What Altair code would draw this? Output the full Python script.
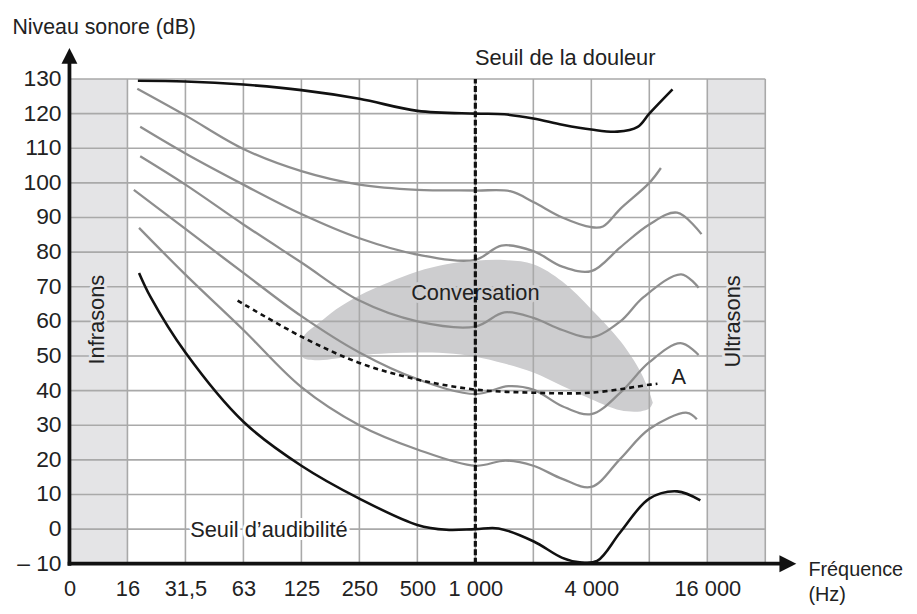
import altair as alt
import pandas as pd

FONT = "Liberation Sans, Arial, Helvetica, sans-serif"
TXT = "#222222"
GRAY = "#8e8e8e"
GRID = "#a9a9a9"
BAND = "#e4e4e6"
BLOB = "#cdcdcf"
INTERP = "catmull-rom"

# ---- axes (x = octave index: 0 -> "0", 1 -> 16 Hz, 7 -> 1 000 Hz, 11 -> 16 000 Hz) ----
x_tick_pos = [0, 1, 2, 3, 4, 5, 6, 7, 9, 11]
x_tick_labels = ["0", "16", "31,5", "63", "125", "250", "500", "1 000", "4 000", "16 000"]
grid_x = [1, 2, 3, 4, 5, 6, 7, 8, 9, 10, 11, 12]
grid_y = [0, 10, 20, 30, 40, 50, 60, 70, 80, 90, 100, 110, 120, 130]
y_ticks = [-10, 0, 10, 20, 30, 40, 50, 60, 70, 80, 90, 100, 110, 120, 130]
y_tick_labels = ["\u2013 10", "0", "10", "20", "30", "40", "50", "60", "70", "80", "90",
                 "100", "110", "120", "130"]

# ---- isophone curves (dB) ----
c120_x = [1.18, 2, 3, 4, 5, 6, 7, 7.5, 8, 8.5, 9, 9.45, 9.8, 10, 10.4]
c120_y = [129.5, 129.3, 128.4, 126.8, 124.3, 120.8, 120, 119.8, 118.6, 116.8, 115.4, 114.8, 116.2, 120, 127]

c100_x = [1.17, 2, 3, 4, 5, 6, 7, 7.6, 8, 8.5, 9, 9.2, 9.5, 10, 10.2]
c100_y = [127.2, 119.5, 109.8, 103.4, 99.5, 98, 97.8, 97.6, 94.5, 90, 87.2, 87.4, 92.5, 100, 104.3]

c80_x = [1.22, 2, 3, 4, 5, 6, 7, 7.45, 8, 8.5, 9, 9.5, 10, 10.48, 10.9]
c80_y = [116.2, 108.5, 99.5, 91, 84, 79.3, 77.8, 81.9, 80.3, 75.8, 74.5, 81.4, 88, 91.4, 85.2]

c60_x = [1.22, 2, 3, 4, 5, 6, 7, 7.5, 8, 8.5, 9, 9.5, 9.9, 10.55, 10.85]
c60_y = [107.7, 99.5, 88, 77, 66, 60, 58.5, 62.6, 61, 57.5, 55.4, 60, 67, 73.6, 69.7]

c40_x = [1.11, 2, 3, 4, 5, 6, 7, 7.57, 8, 8.5, 9, 9.5, 10, 10.54, 10.85]
c40_y = [98, 86.7, 74, 61.5, 51, 43.3, 39, 41.3, 40.3, 35.5, 33.2, 39.4, 48.2, 53.7, 50.3]

c20_x = [1.2, 2, 3, 4, 5, 6, 7, 7.52, 8, 8.5, 9, 9.5, 10, 10.65, 10.82]
c20_y = [87, 73.5, 57.5, 41, 30, 23, 18.3, 19.8, 18.3, 14.5, 12.2, 20.3, 28.9, 33.6, 31.7]

c0_x = [1.2, 1.4, 2, 3, 4, 5, 6, 6.5, 7, 7.4, 8, 8.5, 8.8, 9.1, 9.5, 10, 10.48, 10.88]
c0_y = [74, 67, 51, 31, 18.3, 8.8, 1.2, -0.2, 0, 0.2, -3.5, -8.3, -9.6, -9.2, -0.9, 8.8, 10.9, 8.3]

# curve A (dashed)
a_x = [2.9, 4, 5, 6, 7, 8, 9, 10, 10.14]
a_y = [66, 55.6, 48, 43.2, 40.3, 39.4, 39.4, 41.7, 42]

# conversation zone
blob_x = [3.98, 4.05, 4.3, 4.6, 5.0, 5.5, 6.0, 6.5, 7.0, 7.5, 8.0, 8.5, 9.0, 9.5, 9.85, 10.0, 10.06]
blob_hi = [53.5, 56, 59.5, 63.5, 67.5, 71.2, 74.4, 76.5, 77.5, 77.7, 76.5, 71.5, 63.5, 54.3, 45.4, 39.5, 36.5]
blob_lo = [50.5, 49.3, 48.8, 49.3, 50.2, 50.8, 51, 50.8, 49.8, 47.8, 45.2, 41.3, 37.5, 34.3, 34.0, 34.8, 36.5]

# bands
band_x = [0, 11]
band_x2 = [1, 12]

# annotations
ann_text = ["Conversation", "A", "Seuil d\u2019audibilit\u00e9", "Seuil de la douleur"]
ann_x = [7, 10.51, 3.44, 8.55]
ann_y = [68.3, 43.8, -0.2, 136]
ann_halo = [BLOB, "white", "white", "white"]

rot_text = ["Infrasons", "Ultrasons"]
rot_x = [0.47, 11.45]
rot_y = [60.5, 60]

# ---- data frames ----
gray_rows = []
for name, xs_, ys_ in [("100", c100_x, c100_y), ("80", c80_x, c80_y), ("60", c60_x, c60_y),
                       ("40", c40_x, c40_y), ("20", c20_x, c20_y)]:
    gray_rows += [{"curve": name, "x": a, "y": b} for a, b in zip(xs_, ys_)]
black_rows = []
for name, xs_, ys_ in [("120", c120_x, c120_y), ("0", c0_x, c0_y)]:
    black_rows += [{"curve": name, "x": a, "y": b} for a, b in zip(xs_, ys_)]
df_gray = pd.DataFrame(gray_rows)
df_black = pd.DataFrame(black_rows)
df_a = pd.DataFrame({"x": a_x, "y": a_y})
df_blob = pd.DataFrame({"x": blob_x, "y": blob_hi, "y2": blob_lo})
df_band = pd.DataFrame({"x": band_x, "x2": band_x2, "y": [-10, -10], "y2": [130, 130]})
df_vgrid = pd.DataFrame({"x": grid_x, "y": [-10] * len(grid_x), "y2": [130] * len(grid_x)})
df_hgrid = pd.DataFrame({"y": grid_y, "x": [0] * len(grid_y), "x2": [12] * len(grid_y)})
df_ylab = pd.DataFrame({"y": y_ticks, "x": [0] * len(y_ticks), "text": y_tick_labels})
df_ann = pd.DataFrame({"x": ann_x, "y": ann_y, "text": ann_text, "halo": ann_halo})
df_rot = pd.DataFrame({"x": rot_x, "y": rot_y, "text": rot_text})
df_vline = pd.DataFrame({"x": [7], "y": [-10], "y2": [130]})
df_yaxis = pd.DataFrame({"x": [0], "y": [-10.6], "y2": [135.5]})
df_xaxis = pd.DataFrame({"y": [-10], "x": [-0.03], "x2": [12.3]})
df_yhead = pd.DataFrame({"x": [0], "y": [136.7]})
df_xhead = pd.DataFrame({"x": [12.39], "y": [-10]})

xs = alt.Scale(domain=[0, 12], nice=False, zero=False)
ys = alt.Scale(domain=[-10, 130], nice=False, zero=False)

full_labels = ["" for _ in range(13)]
for p, l in zip(x_tick_pos, x_tick_labels):
    full_labels[p] = l
x_label_expr = "[" + ",".join("'" + l + "'" for l in full_labels) + "][datum.value]"

x_axis = alt.Axis(values=x_tick_pos, labelExpr=x_label_expr, domain=False, ticks=False, tickSize=0,
                  grid=False, labelFlush=False, labelOverlap=False, labelPadding=15,
                  labelFont=FONT, labelFontSize=22, labelColor=TXT,
                  title=["Fr\u00e9quence", "(Hz)"], titleFont=FONT, titleFontSize=20,
                  titleFontWeight="normal", titleColor=TXT, titleAlign="left",
                  titleBaseline="alphabetic", titleAnchor="start", titleX=745, titleY=12,
                  titleLineHeight=25)
y_axis = alt.Axis(labels=False, domain=False, ticks=False, tickSize=0, grid=False,
                  title="Niveau sonore (dB)", titleFont=FONT, titleFontSize=21.5,
                  titleFontWeight="normal", titleColor=TXT, titleAngle=0, titleAlign="left",
                  titleBaseline="alphabetic", titleAnchor="start", titleX=-58, titleY=-46)

bands = alt.Chart(df_band).mark_rect(color=BAND).encode(
    x=alt.X("x:Q", scale=xs, axis=x_axis), x2="x2",
    y=alt.Y("y:Q", scale=ys, axis=y_axis), y2="y2")

blob = alt.Chart(df_blob).mark_area(color=BLOB, interpolate=INTERP, opacity=1).encode(
    x=alt.X("x:Q", scale=xs), y=alt.Y("y:Q", scale=ys), y2="y2")

vgrid = alt.Chart(df_vgrid).mark_rule(color=GRID, strokeWidth=1.6).encode(
    x=alt.X("x:Q", scale=xs), y=alt.Y("y:Q", scale=ys), y2="y2")
hgrid = alt.Chart(df_hgrid).mark_rule(color=GRID, strokeWidth=1.6).encode(
    y=alt.Y("y:Q", scale=ys), x=alt.X("x:Q", scale=xs), x2="x2")

ylabels = alt.Chart(df_ylab).mark_text(font=FONT, fontSize=23, align="right", baseline="middle",
                                      dx=-8, color=TXT).encode(
    x=alt.X("x:Q", scale=xs), y=alt.Y("y:Q", scale=ys), text="text:N")

ann_halo_l = alt.Chart(df_ann).mark_text(font=FONT, fontSize=22, align="center", baseline="middle",
                                        strokeWidth=6, strokeJoin="round").encode(
    x=alt.X("x:Q", scale=xs), y=alt.Y("y:Q", scale=ys), text="text:N",
    stroke=alt.Stroke("halo:N", scale=None), fill=alt.Fill("halo:N", scale=None))
ann_l = alt.Chart(df_ann).mark_text(font=FONT, fontSize=22, align="center", baseline="middle",
                                   color=TXT).encode(
    x=alt.X("x:Q", scale=xs), y=alt.Y("y:Q", scale=ys), text="text:N")

rot_halo = alt.Chart(df_rot).mark_text(font=FONT, fontSize=22, align="center", baseline="middle",
                                      angle=270, color=BAND, stroke=BAND, strokeWidth=6,
                                      strokeJoin="round").encode(
    x=alt.X("x:Q", scale=xs), y=alt.Y("y:Q", scale=ys), text="text:N")
rot_l = alt.Chart(df_rot).mark_text(font=FONT, fontSize=22, align="center", baseline="middle",
                                   angle=270, color=TXT).encode(
    x=alt.X("x:Q", scale=xs), y=alt.Y("y:Q", scale=ys), text="text:N")

gray_lines = alt.Chart(df_gray).mark_line(color=GRAY, strokeWidth=2.3, interpolate=INTERP).encode(
    x=alt.X("x:Q", scale=xs), y=alt.Y("y:Q", scale=ys), detail="curve:N")
black_lines = alt.Chart(df_black).mark_line(color="#111111", strokeWidth=2.6, interpolate=INTERP).encode(
    x=alt.X("x:Q", scale=xs), y=alt.Y("y:Q", scale=ys), detail="curve:N")
a_line = alt.Chart(df_a).mark_line(color="#111111", strokeWidth=2.6, strokeDash=[5, 4],
                                   interpolate=INTERP).encode(
    x=alt.X("x:Q", scale=xs), y=alt.Y("y:Q", scale=ys))

vline = alt.Chart(df_vline).mark_rule(color="#111111", strokeWidth=3.2, strokeDash=[6, 2.5]).encode(
    x=alt.X("x:Q", scale=xs), y=alt.Y("y:Q", scale=ys), y2="y2")

yaxis_line = alt.Chart(df_yaxis).mark_rule(color="#111111", strokeWidth=3.8).encode(
    x=alt.X("x:Q", scale=xs), y=alt.Y("y:Q", scale=ys), y2="y2")
xaxis_line = alt.Chart(df_xaxis).mark_rule(color="#111111", strokeWidth=3.8).encode(
    y=alt.Y("y:Q", scale=ys), x=alt.X("x:Q", scale=xs), x2="x2")
yhead = alt.Chart(df_yhead).mark_point(shape="M0,-1L1,1L-1,1Z", filled=True, size=256,
                                       color="#111111", opacity=1).encode(
    x=alt.X("x:Q", scale=xs), y=alt.Y("y:Q", scale=ys))
xhead = alt.Chart(df_xhead).mark_point(shape="M1,0L-1,-1L-1,1Z", filled=True, size=289,
                                       color="#111111", opacity=1).encode(
    x=alt.X("x:Q", scale=xs), y=alt.Y("y:Q", scale=ys))

chart = alt.layer(
    bands, blob, vgrid, hgrid, ylabels, rot_halo, rot_l, ann_halo_l, ann_l,
    gray_lines, black_lines, vline, a_line, yaxis_line, xaxis_line, yhead, xhead
).properties(
    width=702, height=489,
    autosize=alt.AutoSizeParams(type="none"),
    padding={"left": 62, "top": 69, "right": 145, "bottom": 40},
    background="white",
).configure_view(stroke=None)

chart.save("out.html", embed_options={"renderer": "svg", "actions": False})
